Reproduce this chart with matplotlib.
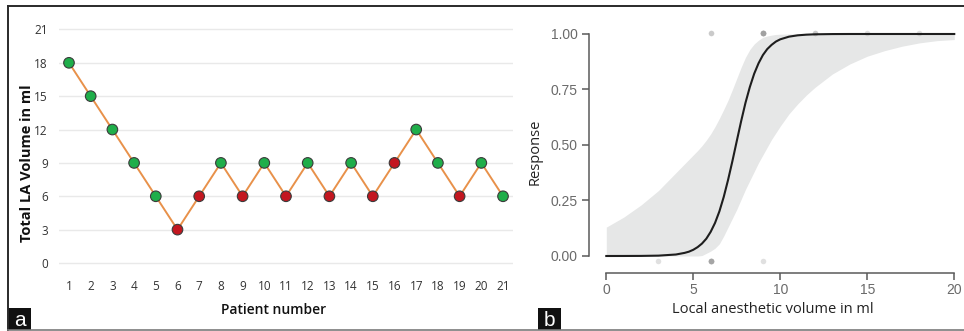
import matplotlib
matplotlib.use("Agg")
import matplotlib.pyplot as plt
from matplotlib.lines import Line2D
from matplotlib.patches import Rectangle

# ---------------- data ----------------
patients = list(range(1, 22))
volumes = [18, 15, 12, 9, 6, 3, 6, 9, 6, 9, 6, 9, 6, 9, 6, 9, 12, 9, 6, 9, 6]
# 1 = success (green), 0 = failure (red)
responses = [1, 1, 1, 1, 1, 0, 0, 1, 0, 1, 0, 1, 0, 1, 0, 0, 1, 1, 0, 1, 1]
left_yticks = [0, 3, 6, 9, 12, 15, 18, 21]

# fitted dose-response curve and its confidence band
curve_x = [0, 1, 2, 3, 4, 4.5, 4.75, 5, 5.25, 5.5, 5.75, 6, 6.25, 6.5, 6.75, 7,
           7.25, 7.5, 7.75, 8, 8.25, 8.5, 8.75, 9, 9.25, 9.5, 9.75, 10, 10.5,
           11, 11.5, 12, 13, 14, 15, 16, 17, 18, 19, 20]
curve_y = [0.0, 0.0001, 0.0004, 0.0016, 0.0067, 0.014, 0.0195, 0.028, 0.040,
           0.056, 0.078, 0.109, 0.149, 0.201, 0.266, 0.343, 0.428, 0.518, 0.607,
           0.690, 0.761, 0.821, 0.868, 0.905, 0.932, 0.951, 0.966, 0.976, 0.988,
           0.994, 0.997, 0.9986, 0.9997, 1.0, 1.0, 1.0, 1.0, 1.0, 1.0, 1.0]
band_lower = [0, 0, 0, 0, 0, 0, 0, 0, 0, 0.002, 0.012, 0.022, 0.035, 0.055,
              0.09, 0.13, 0.17, 0.21, 0.255, 0.30, 0.34, 0.38, 0.42, 0.455,
              0.49, 0.525, 0.555, 0.585, 0.64, 0.685, 0.725, 0.76, 0.82, 0.865,
              0.90, 0.925, 0.945, 0.96, 0.97, 0.975]
band_upper = [0.13, 0.175, 0.23, 0.295, 0.375, 0.415, 0.435, 0.455, 0.475,
              0.497, 0.522, 0.55, 0.583, 0.62, 0.66, 0.702, 0.75, 0.80, 0.85,
              0.895, 0.93, 0.955, 0.972, 0.985, 0.991, 0.995, 0.998, 0.999,
              1.0, 1.0, 1.0, 1.0, 1.0, 1.0, 1.0, 1.0, 1.0, 1.0, 1.0, 1.0]
right_xticks = [0, 5, 10, 15, 20]
right_yticks = [0.0, 0.25, 0.50, 0.75, 1.00]

W, H = 964, 331
fig = plt.figure(figsize=(W / 100, H / 100), dpi=100)
fig.patch.set_facecolor("white")


def px_axes(x0, y0, x1, y1):
    """axes from pixel box (x0,y0 top-left; x1,y1 bottom-right)"""
    return fig.add_axes([x0 / W, (H - y1) / H, (x1 - x0) / W, (y1 - y0) / H])


# ---------------- left panel ----------------
axL = px_axes(59, 27, 513, 266)
axL.set_xlim(0.54, 21.46)
axL.set_ylim(-0.27, 21.22)
for s in axL.spines.values():
    s.set_visible(False)
axL.set_yticks(left_yticks)
axL.set_xticks(patients)
axL.yaxis.grid(True, color="#e9e9e9", linewidth=1.0)
axL.set_axisbelow(True)
axL.tick_params(axis="both", length=0, labelsize=8.5, labelcolor="#333333",
                labelfontfamily="Open Sans")
axL.tick_params(axis="y", pad=8)
axL.tick_params(axis="x", pad=10)

axL.plot(patients, volumes, color="#e8914a", linewidth=1.4, zorder=2)
green, red = "#1fae4a", "#c3161f"
cols = [green if r == 1 else red for r in responses]
axL.scatter(patients, volumes, s=58, c=cols, edgecolors="#3b3b3b",
            linewidths=0.8, zorder=3)

axL.set_xlabel("Patient number", fontsize=10, fontweight="semibold",
               family="Open Sans", color="#111111")
axL.xaxis.set_label_coords(0.4736, -0.184)
axL.xaxis.label.set_va("center")
axL.set_ylabel("Total LA Volume in ml", fontsize=10.5, fontweight="bold",
               family="Open Sans", color="#111111")
axL.yaxis.set_label_coords(-0.0705, 0.431)
axL.yaxis.label.set_va("center")

# ---------------- right panel ----------------
axR = px_axes(589, 30, 960, 273)
axR.set_xlim(-0.994, 20.33)
axR.set_ylim(-0.0766, 1.018)
axR.fill_between(curve_x, band_lower, band_upper, color="#e6e7e7",
                 linewidth=0, zorder=1)
axR.plot(curve_x, curve_y, color="#1e1e1e", linewidth=1.5, zorder=3)
jit_y = [r + (0.006 if r == 1 else -0.022) for r in responses]
axR.scatter(volumes, jit_y, s=16, color="#9a9a9a", alpha=0.3,
            linewidths=0, zorder=2)

for side in ("top", "right"):
    axR.spines[side].set_visible(False)
for side in ("left", "bottom"):
    axR.spines[side].set_color("#5a5a5a")
    axR.spines[side].set_linewidth(1.1)
axR.spines["left"].set_bounds(0, 1)
axR.spines["bottom"].set_bounds(0, 20)
axR.set_xticks(right_xticks)
axR.set_yticks(right_yticks)
axR.set_yticklabels([f"{v:.2f}" for v in right_yticks])
axR.tick_params(axis="both", length=5, width=1.1, color="#5a5a5a",
                labelsize=10, labelcolor="#6a6a6a",
                labelfontfamily="Liberation Sans")
axR.tick_params(axis="y", pad=3)
axR.tick_params(axis="x", pad=2)
axR.set_xlabel("Local anesthetic volume in ml", fontsize=10.5,
               family="Open Sans", color="#222222")
axR.xaxis.set_label_coords(0.496, -0.152)
axR.xaxis.label.set_va("center")
axR.set_ylabel("Response", fontsize=10.5, family="Open Sans", color="#222222")
axR.yaxis.set_label_coords(-0.1456, 0.499)
axR.yaxis.label.set_va("center")

# ---------------- frame and panel labels ----------------
def fline(x0, y0, x1, y1, color, lw):
    fig.add_artist(Line2D([x0 / W, x1 / W], [1 - y0 / H, 1 - y1 / H],
                          transform=fig.transFigure, color=color, linewidth=lw))

fline(8, 6, 964, 6, "#2a2a2a", 1.4)
fline(8, 6, 8, 330, "#2a2a2a", 1.4)
fline(8, 330, 964, 330, "#7a7a7a", 1.2)

for lab, x0 in (("a", 8), ("b", 538)):
    fig.add_artist(Rectangle((x0 / W, 1 - 330 / H), 23 / W, 22 / H,
                             transform=fig.transFigure, facecolor="#111111",
                             edgecolor="none"))
    fig.text((x0 + 11.5) / W, 1 - 320 / H, lab, color="white", fontsize=15,
             family="Liberation Sans", ha="center", va="center")

fig.savefig("out.png", dpi=100)
